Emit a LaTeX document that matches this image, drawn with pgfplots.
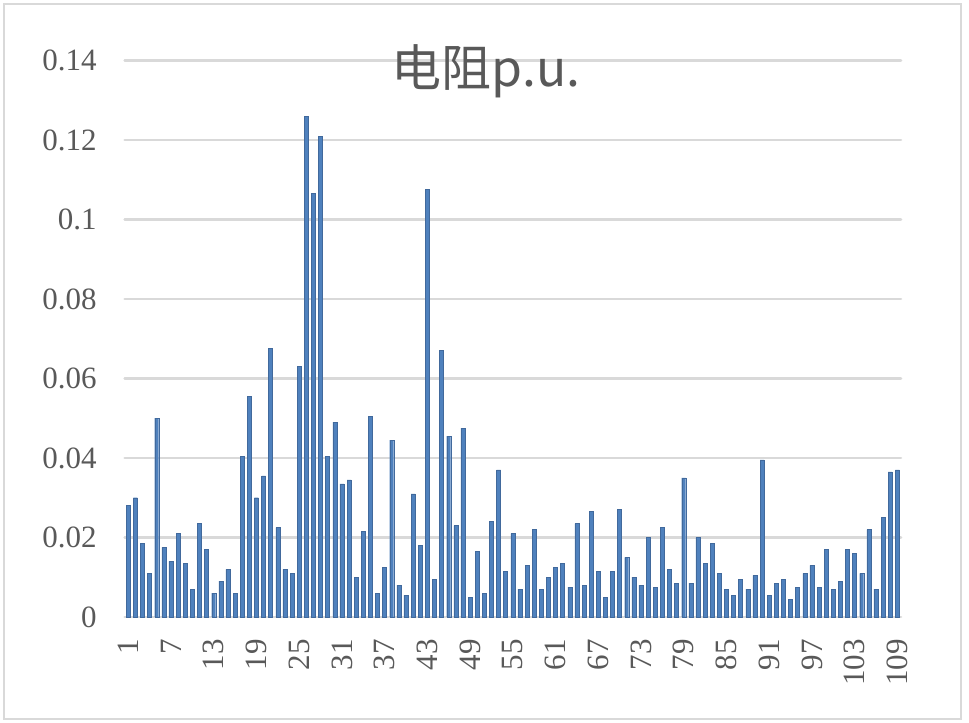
\documentclass[border=0pt]{standalone}
\usepackage{fontspec}
\setmainfont{Liberation Serif}
\newfontfamily\cjk{Noto Sans CJK SC}
\usepackage{pgfplots}
\pgfplotsset{compat=1.18}
\definecolor{barblue}{HTML}{4F81BD}
\definecolor{baredge}{HTML}{41699C}
\definecolor{gridgray}{HTML}{D9D9D9}
\definecolor{txtgray}{HTML}{595959}
\begin{document}
\begin{tikzpicture}
\path[use as bounding box] (0,0) rectangle (969bp,723bp);
\fill[white] (0,0) rectangle (969bp,723bp);
\draw[gridgray, line width=2.5bp] (4bp,4bp) rectangle (961bp,719bp);
\begin{axis}[
  at={(124.7bp,106bp)}, anchor=south west,
  scale only axis,
  width=776.2bp, height=556.5bp,
  xmin=0.5, xmax=109.5,
  ymin=0, ymax=0.14,
  ybar, bar width=4bp,
  axis line style={draw=none},
  major tick length=0pt,
  ytick={0,0.02,0.04,0.06,0.08,0.1,0.12,0.14},
  yticklabels={0,0.02,0.04,0.06,0.08,0.1,0.12,0.14},
  xtick={1,7,13,19,25,31,37,43,49,55,61,67,73,79,85,91,97,103,109},
  xticklabels={1,7,13,19,25,31,37,43,49,55,61,67,73,79,85,91,97,103,109},
  ymajorgrids,
  major grid style={line width=2.7bp, color=gridgray, line cap=round},
  ticklabel style={font=\fontsize{31bp}{33bp}\selectfont, text=txtgray, inner sep=0pt},
  yticklabel style={anchor=east, xshift=-28bp},
  xticklabel style={rotate=90, anchor=east},
  xticklabel shift=22bp,
  title={{\cjk 电阻p.u.}},
  title style={at={(axis description cs:0.4655,0.943)}, anchor=base,
    font=\cjk\fontsize{50bp}{54bp}\selectfont, text=txtgray, inner sep=0pt},
  clip=false,
]
\addplot[fill=barblue, draw=baredge, line width=0.4bp] coordinates {
(1,0.028) (2,0.030) (3,0.0185) (4,0.011) (5,0.050) (6,0.0175) (7,0.014) (8,0.021) (9,0.0135) (10,0.007)
(11,0.0235) (12,0.017) (13,0.006) (14,0.009) (15,0.012) (16,0.006) (17,0.0405) (18,0.0555) (19,0.030) (20,0.0355)
(21,0.0675) (22,0.0225) (23,0.012) (24,0.011) (25,0.063) (26,0.126) (27,0.1065) (28,0.121) (29,0.0405) (30,0.049)
(31,0.0335) (32,0.0345) (33,0.010) (34,0.0215) (35,0.0505) (36,0.006) (37,0.0125) (38,0.0445) (39,0.008) (40,0.0055)
(41,0.031) (42,0.018) (43,0.1075) (44,0.0095) (45,0.067) (46,0.0455) (47,0.023) (48,0.0475) (49,0.005) (50,0.0165)
(51,0.006) (52,0.024) (53,0.037) (54,0.0115) (55,0.021) (56,0.007) (57,0.013) (58,0.022) (59,0.007) (60,0.010)
(61,0.0125) (62,0.0135) (63,0.0075) (64,0.0235) (65,0.008) (66,0.0265) (67,0.0115) (68,0.005) (69,0.0115) (70,0.027)
(71,0.015) (72,0.010) (73,0.008) (74,0.020) (75,0.0075) (76,0.0225) (77,0.012) (78,0.0085) (79,0.035) (80,0.0085)
(81,0.020) (82,0.0135) (83,0.0185) (84,0.011) (85,0.007) (86,0.0055) (87,0.0095) (88,0.007) (89,0.0105) (90,0.0395)
(91,0.0055) (92,0.0085) (93,0.0095) (94,0.0045) (95,0.0075) (96,0.011) (97,0.013) (98,0.0075) (99,0.017) (100,0.007)
(101,0.009) (102,0.017) (103,0.016) (104,0.011) (105,0.022) (106,0.007) (107,0.025) (108,0.0365) (109,0.037)
};
\end{axis}
\end{tikzpicture}
\end{document}
